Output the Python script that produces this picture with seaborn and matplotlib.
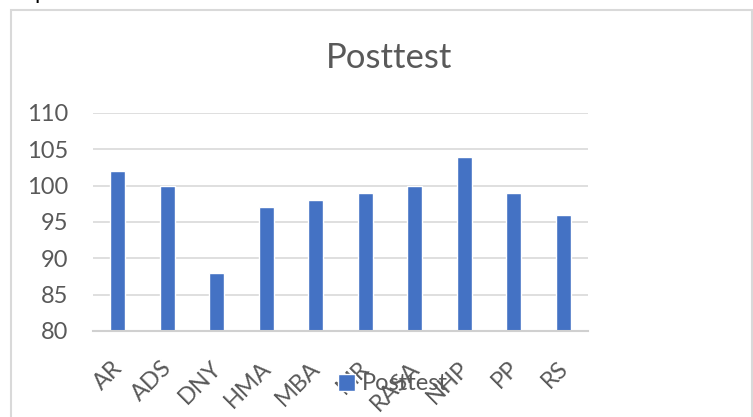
import matplotlib
matplotlib.use('Agg')
import matplotlib.pyplot as plt
import matplotlib.patches as mpatches
import matplotlib.transforms as mtransforms
import seaborn as sns

# values
names = ['AR', 'ADS', 'DNY', 'HMA', 'MBA', 'MR', 'RASA', 'NHP', 'PP', 'RS']
posttest = [102, 100, 88, 97, 98, 99, 100, 104, 99, 96]
yticks = [80, 85, 90, 95, 100, 105, 110]

sns.set_style('white')
plt.rcParams['font.family'] = ['Lato', 'DejaVu Sans']

fig = plt.figure(figsize=(7.53, 4.17), dpi=100)
ax = fig.add_axes([93 / 753, 1 - 331 / 417, 495 / 753, 218 / 417])

sns.barplot(x=names, y=posttest, color='#4472C4', width=0.31, saturation=1,
            label='Posttest', ax=ax)
if ax.get_legend() is not None:
    ax.get_legend().remove()

ax.set_ylim(80, 110)
ax.set_yticks(yticks)
ax.set_xlim(-0.5, len(names) - 0.5)
ax.yaxis.grid(True, color='#d9d9d9', linewidth=1.2)
ax.set_axisbelow(True)
for s in ['top', 'right', 'left']:
    ax.spines[s].set_visible(False)
ax.spines['bottom'].set_color('#d0d0d0')
ax.spines['bottom'].set_linewidth(1.5)
ax.tick_params(axis='y', length=0, pad=18, labelsize=17, labelcolor='#595959')
ax.tick_params(axis='x', length=0, pad=19, labelsize=17, labelcolor='#595959')
ax.set_xlabel('')
ax.set_ylabel('')
for lab in ax.get_xticklabels():
    lab.set_rotation(45)
    lab.set_ha('right')
    lab.set_rotation_mode('anchor')
    lab.set_transform(mtransforms.offset_copy(lab.get_transform(), fig=fig, x=-6, y=0, units='dots'))

fig.text(389 / 753, 1 - 58 / 417, 'Posttest', ha='center', va='center',
         fontsize=25, color='#595959')

handles, labels = ax.get_legend_handles_labels()
fig.legend(handles, labels, loc='center left', bbox_to_anchor=(317 / 753, 1 - 384 / 417),
           frameon=False, fontsize=17, labelcolor='#595959',
           handlelength=0.7, handleheight=0.7, handletextpad=0.3)

# chart border and the cut-off letter above it
fig.patches.append(mpatches.Rectangle((11 / 753, -0.1), 741 / 753, 1.1 - 10 / 417,
                                      transform=fig.transFigure, fill=False,
                                      edgecolor='#d9d9d9', linewidth=1.5))
fig.text(34 / 753, 1 + 1 / 417, 'p', ha='left', va='baseline', fontsize=16, color='black')

fig.savefig('out.png', dpi=100)
